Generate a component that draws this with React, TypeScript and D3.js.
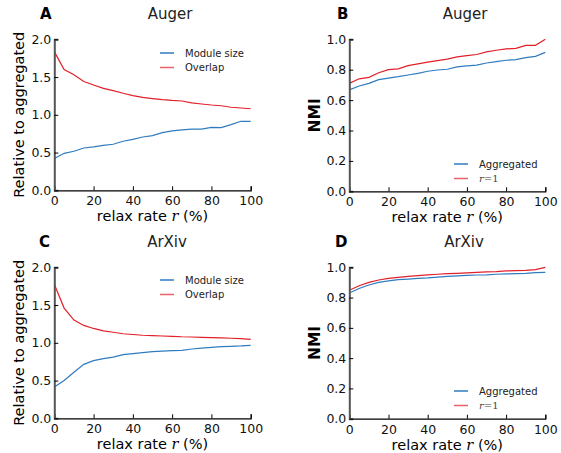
import * as d3 from "d3";
import { useEffect, useRef } from "react";

// relax rate r (%) sampled every 5%
const rates = [0, 5, 10, 15, 20, 25, 30, 35, 40, 45, 50, 55, 60, 65, 70, 75, 80, 85, 90, 95, 100];

// Panel A: Auger, relative to aggregated
const augerModuleSize = [0.42, 0.49, 0.517, 0.56, 0.574, 0.596, 0.61, 0.65, 0.675, 0.706, 0.724, 0.764, 0.786, 0.8, 0.81, 0.81, 0.834, 0.83, 0.87, 0.914, 0.914];
const augerOverlap = [1.837, 1.6, 1.53, 1.44, 1.395, 1.35, 1.32, 1.285, 1.254, 1.23, 1.214, 1.2, 1.19, 1.183, 1.157, 1.143, 1.13, 1.12, 1.1, 1.09, 1.08];

// Panel B: Auger, NMI
const augerAggregated = [0.667, 0.693, 0.71, 0.735, 0.745, 0.754, 0.765, 0.776, 0.79, 0.798, 0.803, 0.818, 0.825, 0.83, 0.844, 0.853, 0.862, 0.866, 0.88, 0.888, 0.914];
const augerR1 = [0.71, 0.74, 0.75, 0.78, 0.8, 0.805, 0.827, 0.838, 0.85, 0.86, 0.87, 0.884, 0.893, 0.9, 0.917, 0.928, 0.937, 0.94, 0.96, 0.96, 1.0];

// Panel C: ArXiv, relative to aggregated
const arxivModuleSize = [0.415, 0.5, 0.61, 0.715, 0.763, 0.79, 0.81, 0.843, 0.856, 0.87, 0.883, 0.89, 0.896, 0.9, 0.918, 0.93, 0.94, 0.95, 0.953, 0.958, 0.967];
const arxivOverlap = [1.775, 1.46, 1.3, 1.23, 1.19, 1.157, 1.14, 1.12, 1.11, 1.1, 1.095, 1.09, 1.086, 1.08, 1.077, 1.073, 1.068, 1.064, 1.06, 1.055, 1.046];

// Panel D: ArXiv, NMI
const arxivAggregated = [0.83, 0.86, 0.883, 0.9, 0.91, 0.918, 0.922, 0.927, 0.93, 0.935, 0.94, 0.943, 0.947, 0.949, 0.95, 0.954, 0.956, 0.958, 0.96, 0.965, 0.967];
const arxivR1 = [0.848, 0.878, 0.9, 0.916, 0.927, 0.934, 0.94, 0.945, 0.95, 0.954, 0.958, 0.96, 0.963, 0.967, 0.97, 0.971, 0.976, 0.978, 0.98, 0.985, 1.0];

const xTicks = [0, 20, 40, 60, 80, 100];
const relTicks = [0, 0.5, 1.0, 1.5, 2.0];
const nmiTicks = [0, 0.2, 0.4, 0.6, 0.8, 1.0];

const BLUE = "#2f7cc0";
const RED = "#e2202a";
const FONT = "DejaVu Sans, sans-serif";

function drawPanel(svg, p) {
  const g = svg.append("g");
  const x = d3.scaleLinear().domain([0, 100]).range([p.left, p.right]);
  const y = d3.scaleLinear().domain(p.yDomain).range([p.bottom, p.top]);

  // series lines
  const line = d3
    .line()
    .x((d) => x(d[0]))
    .y((d) => y(d[1]))
    .curve(d3.curveLinear);

  p.series.forEach((s) => {
    g.append("path")
      .datum(rates.map((r, i) => [r, s.values[i]]))
      .attr("fill", "none")
      .attr("stroke", s.color)
      .attr("stroke-width", 1.2)
      .attr("d", line);
  });

  // x axis, ticks pointing inside
  const xAxis = g
    .append("g")
    .attr("transform", `translate(0,${p.bottom})`)
    .call(d3.axisBottom(x).tickValues(xTicks).tickSize(-4).tickPadding(6).tickFormat(d3.format("d")));
  xAxis.select(".domain").attr("stroke", "#000").attr("stroke-width", 1.2);
  xAxis.selectAll("text").attr("font-family", FONT).attr("font-size", 12.5).attr("fill", "#111");

  // y axis
  const yAxis = g
    .append("g")
    .attr("transform", `translate(${p.left},0)`)
    .call(d3.axisLeft(y).tickValues(p.yTicks).tickSize(-4).tickPadding(3).tickFormat(d3.format(".1f")));
  yAxis.select(".domain").attr("stroke", "#555").attr("stroke-width", 2);
  yAxis.selectAll("text").attr("font-family", FONT).attr("font-size", 12.5).attr("fill", "#111");

  // panel letter and title
  g.append("text")
    .attr("x", p.letterX)
    .attr("y", p.top - 20)
    .attr("font-family", FONT)
    .attr("font-weight", "bold")
    .attr("font-size", 15)
    .text(p.letter);
  g.append("text")
    .attr("x", p.titleX)
    .attr("y", p.top - 20)
    .attr("text-anchor", "middle")
    .attr("font-family", FONT)
    .attr("font-size", 15)
    .attr("fill", "#222")
    .text(p.title);

  // x label
  const xl = g
    .append("text")
    .attr("x", (p.left + p.right) / 2)
    .attr("y", p.bottom + 31)
    .attr("text-anchor", "middle")
    .attr("font-family", FONT)
    .attr("font-size", 14.5);
  xl.append("tspan").text("relax rate ");
  xl.append("tspan").attr("font-family", "DejaVu Serif, serif").attr("font-style", "italic").text("r");
  xl.append("tspan").text(" (%)");

  // y label
  g.append("text")
    .attr("transform", `translate(${p.yLabelX},${(p.top + p.bottom) / 2}) rotate(-90)`)
    .attr("text-anchor", "middle")
    .attr("font-family", FONT)
    .attr("font-size", p.yLabelBold ? 15.5 : 14.5)
    .attr("font-weight", p.yLabelBold ? "bold" : "normal")
    .text(p.yLabel);

  // legend
  p.series.forEach((s, i) => {
    const ly = p.legendY + i * 14.5;
    g.append("line")
      .attr("x1", p.legendX)
      .attr("x2", p.legendX + 14)
      .attr("y1", ly)
      .attr("y2", ly)
      .attr("stroke", s.color)
      .attr("stroke-opacity", i === 0 ? 1 : 0.7)
      .attr("stroke-width", 1.5);
    const t = g
      .append("text")
      .attr("x", p.legendX + 25)
      .attr("y", ly + 3.5)
      .attr("font-family", FONT)
      .attr("font-size", 10)
      .attr("fill", "#222");
    if (s.label === "r=1") {
      t.attr("font-family", "DejaVu Serif, serif").attr("fill", "#444");
      t.append("tspan").attr("font-style", "italic").text("r");
      t.append("tspan").text("=1");
    } else {
      t.text(s.label);
    }
  });
}

function App() {
  const ref = useRef(null);

  useEffect(() => {
    const svg = d3.select(ref.current);
    svg.selectAll("*").remove();

    drawPanel(svg, {
      left: 54.3, right: 250.7, top: 39.3, bottom: 190.3,
      yDomain: [0, 2], yTicks: relTicks, yLabel: "Relative to aggregated", yLabelX: 24,
      letter: "A", letterX: 40, title: "Auger", titleX: 170,
      legendX: 160, legendY: 53,
      series: [
        { label: "Module size", values: augerModuleSize, color: BLUE },
        { label: "Overlap", values: augerOverlap, color: RED },
      ],
    });
    drawPanel(svg, {
      left: 349.3, right: 545.3, top: 39.3, bottom: 191.3,
      yDomain: [0, 1], yTicks: nmiTicks, yLabel: "NMI", yLabelX: 320, yLabelBold: true,
      letter: "B", letterX: 337, title: "Auger", titleX: 465,
      legendX: 454, legendY: 164,
      series: [
        { label: "Aggregated", values: augerAggregated, color: BLUE },
        { label: "r=1", values: augerR1, color: RED },
      ],
    });
    drawPanel(svg, {
      left: 54.3, right: 250.7, top: 267.3, bottom: 418.3,
      yDomain: [0, 2], yTicks: relTicks, yLabel: "Relative to aggregated", yLabelX: 24,
      letter: "C", letterX: 39, title: "ArXiv", titleX: 167,
      legendX: 160, legendY: 280,
      series: [
        { label: "Module size", values: arxivModuleSize, color: BLUE },
        { label: "Overlap", values: arxivOverlap, color: RED },
      ],
    });
    drawPanel(svg, {
      left: 349.3, right: 545.3, top: 267.3, bottom: 418.7,
      yDomain: [0, 1], yTicks: nmiTicks, yLabel: "NMI", yLabelX: 320, yLabelBold: true,
      letter: "D", letterX: 335, title: "ArXiv", titleX: 464,
      legendX: 454, legendY: 391,
      series: [
        { label: "Aggregated", values: arxivAggregated, color: BLUE },
        { label: "r=1", values: arxivR1, color: RED },
      ],
    });
  }, []);

  return (
    <svg
      ref={ref}
      width={561}
      height={453}
      style={{ position: "absolute", left: 0, top: 0, background: "#fff" }}
    />
  );
}

export default App;
